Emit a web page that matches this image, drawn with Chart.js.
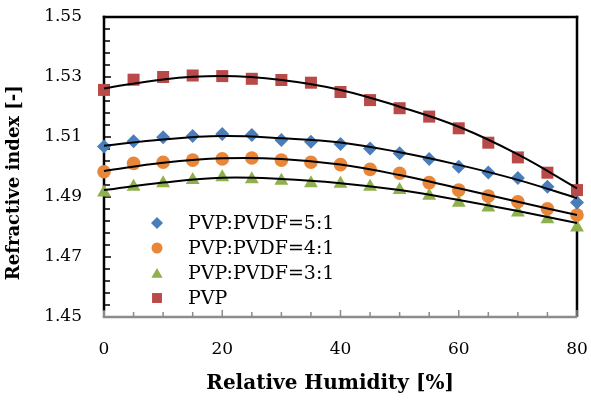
<!DOCTYPE html>
<html>
<head>
<meta charset="utf-8">
<script src="https://cdn.jsdelivr.net/npm/chart.js@4"></script>
</head>
<body style="margin:0; background:#fff">
<canvas id="riChart" width="591" height="400"></canvas>
<script>
// measured points (every 5 % RH)
const humidity = [0, 5, 10, 15, 20, 25, 30, 35, 40, 45, 50, 55, 60, 65, 70, 75, 80];
const ri51 = [1.5068, 1.5086, 1.5099, 1.5103, 1.5110, 1.5107, 1.5090, 1.5084, 1.5077, 1.5062, 1.5046, 1.5027, 1.5001, 1.4982, 1.4963, 1.4934, 1.4882];
const ri41 = [1.4984, 1.5012, 1.5016, 1.5023, 1.5027, 1.5030, 1.5023, 1.5016, 1.5008, 1.4992, 1.4979, 1.4948, 1.4923, 1.4903, 1.4884, 1.4861, 1.4840];
const ri31 = [1.4915, 1.4934, 1.4946, 1.4957, 1.4966, 1.4959, 1.4954, 1.4946, 1.4944, 1.4934, 1.4923, 1.4904, 1.4881, 1.4865, 1.4848, 1.4826, 1.4798];
const riPVP = [1.5257, 1.5291, 1.5300, 1.5305, 1.5303, 1.5294, 1.5290, 1.5281, 1.5250, 1.5223, 1.5196, 1.5168, 1.5129, 1.5081, 1.5032, 1.4981, 1.4923];

// trend curves, every 10 % RH
const fitX = [0, 10, 20, 30, 40, 50, 60, 70, 80];
const fit51 = [1.5071, 1.5092, 1.5103, 1.5096, 1.5082, 1.5049, 1.5007, 1.4957, 1.4896];
const fit41 = [1.4987, 1.5014, 1.5029, 1.5027, 1.5008, 1.4973, 1.4929, 1.4884, 1.4840];
const fit31 = [1.4923, 1.4948, 1.4964, 1.4960, 1.4946, 1.4923, 1.4890, 1.4853, 1.4813];
const fitPVP = [1.5262, 1.5292, 1.5303, 1.5290, 1.5257, 1.5201, 1.5134, 1.5042, 1.4929];

const xTicks = [0, 20, 40, 60, 80];
const yTicks = [1.45, 1.47, 1.49, 1.51, 1.53, 1.55];
const seriesNames = ['PVP:PVDF=5:1', 'PVP:PVDF=4:1', 'PVP:PVDF=3:1', 'PVP'];

const BLUE = '#4a7ebb', ORANGE = '#e8863a', GREEN = '#8fb04e', RED = '#b94a48';
const SERIF = '"DejaVu Serif", serif';

const pts = (xs, ys) => xs.map((x, i) => ({ x: x, y: ys[i] }));

const markerSet = (label, ys, color, style, r) => ({
    label: label,
    data: pts(humidity, ys),
    showLine: false,
    pointStyle: style,
    pointRadius: r,
    pointHoverRadius: r,
    pointBackgroundColor: color,
    pointBorderColor: color,
    pointBorderWidth: 0,
    clip: false,
    order: 2
});

const fitSet = (ys) => ({
    label: 'fit',
    data: pts(fitX, ys),
    showLine: true,
    borderColor: '#000',
    borderWidth: 2,
    tension: 0.4,
    pointRadius: 0,
    fill: false,
    clip: false,
    order: 1
});

// box + inward tick marks, placed from the scales themselves, under the markers
const frame = {
    id: 'frame',
    beforeDatasetsDraw(chart) {
        const ctx = chart.ctx;
        const xs = chart.scales.x, ys = chart.scales.y;
        const L = xs.getPixelForValue(0), R = xs.getPixelForValue(80);
        const T = ys.getPixelForValue(1.55), B = ys.getPixelForValue(1.45);
        const w = 2.5, h = w / 2;
        ctx.save();
        ctx.fillStyle = '#000000';
        for (let v = 0; v <= 25; v++) {
            const y = ys.getPixelForValue(1.45 + v * 0.004);
            ctx.fillRect(L, y - 0.75, v % 5 === 0 ? 7 : 6, 1.5);
        }
        ctx.fillRect(L - h, T - h, w, B - 6 - T + h);
        ctx.fillRect(L - h, T - h, R - L + w, w);
        ctx.fillRect(R - h, T - h, w, B - T + h);
        ctx.fillStyle = '#8c8c8c';
        for (let v = 0; v <= 80; v += 5) {
            const x = xs.getPixelForValue(v);
            const len = v % 20 === 0 ? 7 : 5;
            ctx.fillRect(x - 0.75, B - len, 1.5, len);
        }
        ctx.fillRect(L - h, B - 6, w, 6);
        ctx.fillRect(L - h, B - h, R - L + h, w);
        ctx.restore();
    },
    // legend inside the plot
    afterDraw(chart) {
        const ctx = chart.ctx;
        const items = [
            { style: 'rectRot', color: BLUE, r: 6 },
            { style: 'circle', color: ORANGE, r: 5.5 },
            { style: 'triangle', color: GREEN, r: 6.5 },
            { style: 'rect', color: RED, r: 7 }
        ];
        ctx.save();
        ctx.font = '19px ' + SERIF;
        ctx.textBaseline = 'middle';
        items.forEach((it, i) => {
            const y = 223 + i * 25;
            ctx.fillStyle = it.color;
            Chart.helpers.drawPoint(ctx, { pointStyle: it.style, radius: it.r, borderWidth: 0 }, 157, it.style === 'triangle' ? y + 1.5 : y);
            ctx.fillStyle = '#000';
            ctx.fillText(seriesNames[i], 188, y + 1);
        });
        ctx.restore();
    }
};

const riCtx = document.getElementById('riChart');
new Chart(riCtx, {
    type: 'scatter',
    data: {
        datasets: [
            fitSet(fit51), fitSet(fit41), fitSet(fit31), fitSet(fitPVP),
            markerSet(seriesNames[0], ri51, BLUE, 'rectRot', 7),
            markerSet(seriesNames[1], ri41, ORANGE, 'circle', 6.8),
            markerSet(seriesNames[2], ri31, GREEN, 'triangle', 8),
            markerSet(seriesNames[3], riPVP, RED, 'rect', 8.5)
        ]
    },
    plugins: [frame],
    options: {
        responsive: false,
        animation: false,
        events: [],
        layout: { autoPadding: false, padding: { left: 0, right: 14, top: 17, bottom: 0 } },
        plugins: { legend: { display: false }, tooltip: { enabled: false } },
        scales: {
            x: {
                type: 'linear',
                min: 0, max: 80,
                afterFit: s => { s.height = 83; s.paddingLeft = 0; s.paddingRight = 0; },
                afterBuildTicks: s => { s.ticks = xTicks.map(v => ({ value: v })); },
                grid: { display: false, drawTicks: false },
                border: { display: false },
                ticks: { color: '#000', padding: 22, font: { family: SERIF, size: 17 } },
                title: {
                    display: true, text: 'Relative Humidity [%]   ', color: '#000',
                    font: { family: SERIF, size: 20, weight: 'bold' },
                    padding: { top: 0, bottom: 4 }
                }
            },
            y: {
                min: 1.45, max: 1.55,
                afterFit: s => { s.width = 104; s.paddingTop = 0; s.paddingBottom = 0; },
                afterBuildTicks: s => { s.ticks = yTicks.map(v => ({ value: v })); },
                grid: { display: false, drawTicks: false },
                border: { display: false },
                ticks: { color: '#000', padding: 22, font: { family: SERIF, size: 17 },
                         callback: v => v.toFixed(2) },
                title: {
                    display: true, text: 'Refractive index [-]     ', color: '#000',
                    font: { family: SERIF, size: 18, weight: 'bold' },
                    padding: { top: 4, bottom: 0 }
                }
            }
        }
    }
});
</script>
</body>
</html>
